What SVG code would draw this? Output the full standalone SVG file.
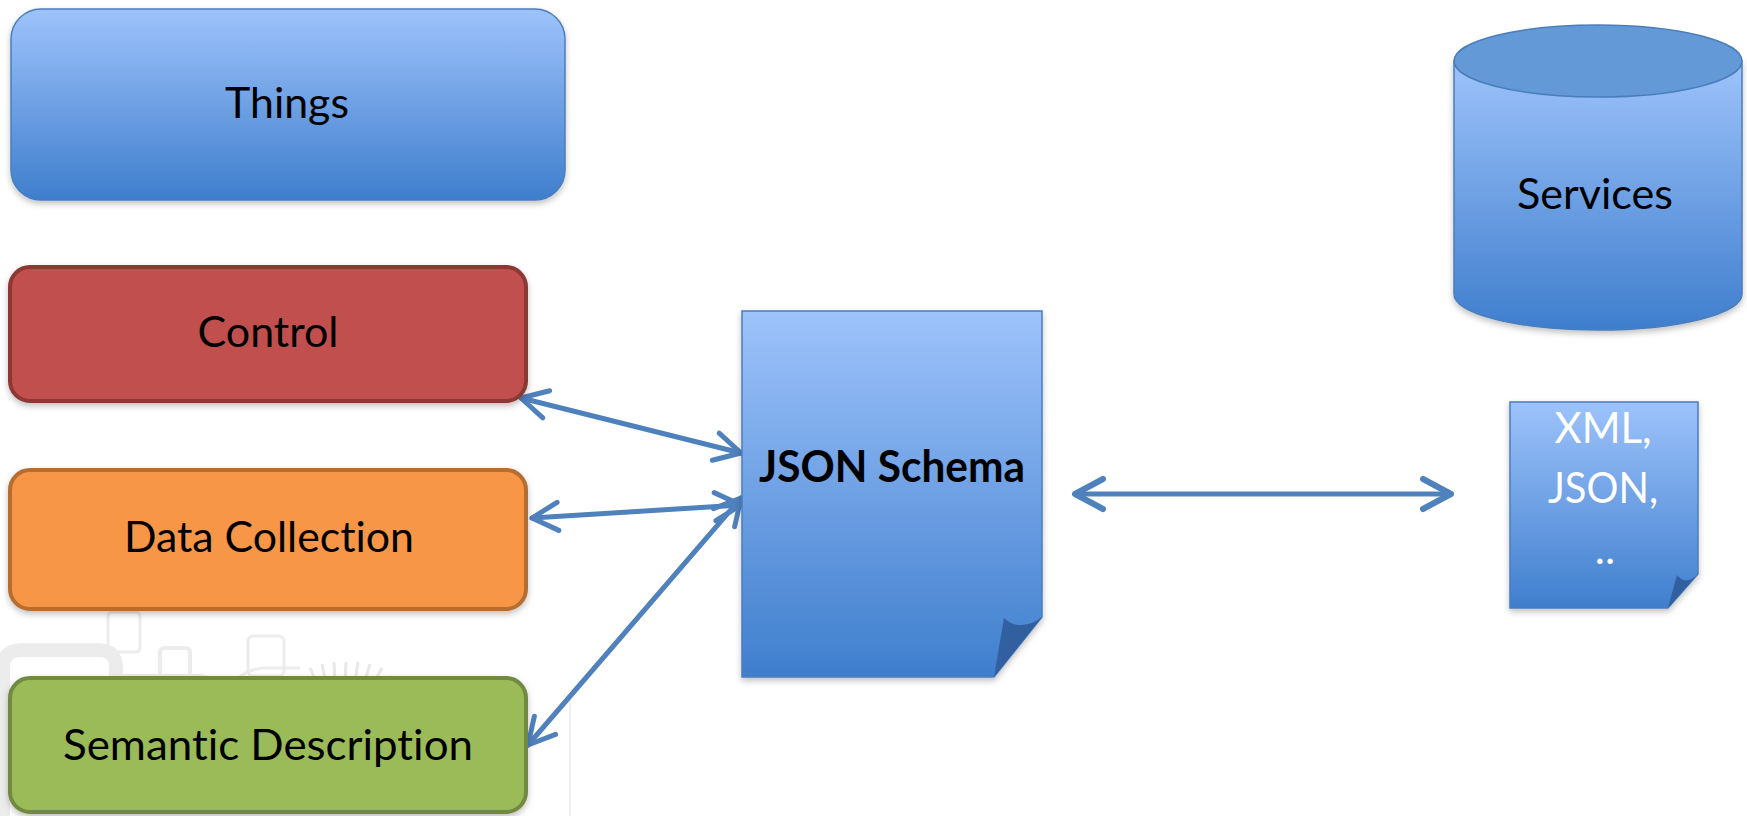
<svg xmlns="http://www.w3.org/2000/svg" width="1747" height="816" viewBox="0 0 1747 816">
<style>
.lbl{font-family:Lato,"Open Sans","Liberation Sans",sans-serif;font-size:43px;fill:#000;text-anchor:middle;font-variant-ligatures:none;font-feature-settings:"liga" 0,"clig" 0,"dlig" 0}
.wht{fill:#fff}
.bold{font-weight:bold}
.conn{stroke:#4f81bd;stroke-width:5;fill:none;stroke-linecap:round}
.wm{fill:none;stroke:#ececec}
</style>
<defs>
<linearGradient id="blue" x1="0" y1="0" x2="0" y2="1">
<stop offset="0" stop-color="#9dc3fb"/>
<stop offset="1" stop-color="#3f7ecd"/>
</linearGradient>
<filter id="sh" x="-10%" y="-10%" width="120%" height="130%">
<feDropShadow dx="0" dy="3" stdDeviation="3" flood-color="#000" flood-opacity="0.25"/>
</filter>
<marker id="ah" viewBox="-32 -20 37 40" refX="0" refY="0" markerWidth="37" markerHeight="40" markerUnits="userSpaceOnUse" orient="auto-start-reverse">
<path d="M-26,-14 L0,0 L-26,14" fill="none" stroke="#4f81bd" stroke-width="5" stroke-linecap="round" stroke-linejoin="round"/>
</marker>
<marker id="ahb" viewBox="-36 -22 41 44" refX="0" refY="0" markerWidth="41" markerHeight="44" markerUnits="userSpaceOnUse" orient="auto-start-reverse">
<path d="M-28,-15 L0,0 L-28,15" fill="none" stroke="#4f81bd" stroke-width="6" stroke-linecap="round" stroke-linejoin="round"/>
</marker>
</defs>
<rect width="1747" height="816" fill="#fff"/>
<g id="watermark">
<path class="wm" d="M3,816 V668 Q3,650 22,650 H98 Q116,650 116,668 V720" stroke-width="14"/>
<rect class="wm" x="108" y="612" width="32" height="40" rx="4" stroke-width="3"/>
<rect class="wm" x="160" y="648" width="30" height="42" rx="4" stroke-width="4"/>
<path class="wm" d="M116,680 H200 Q212,680 212,695 V716" stroke-width="12"/>
<rect class="wm" x="248" y="636" width="36" height="40" rx="5" stroke-width="3"/>
<path class="wm" d="M228,700 Q232,672 262,668 H300" stroke-width="3"/>
<g stroke="#e8e8e8" stroke-width="3">
<line x1="300" y1="678" x2="312" y2="690"/>
<line x1="310" y1="668" x2="318" y2="686"/>
<line x1="322" y1="664" x2="326" y2="684"/>
<line x1="334" y1="662" x2="335" y2="682"/>
<line x1="346" y1="662" x2="345" y2="682"/>
<line x1="358" y1="662" x2="355" y2="682"/>
<line x1="370" y1="664" x2="364" y2="684"/>
<line x1="382" y1="668" x2="372" y2="686"/>
<line x1="392" y1="676" x2="380" y2="690"/>
</g>
<line x1="570" y1="700" x2="570" y2="816" stroke="#f0f0f0" stroke-width="2"/>
</g>
<g id="connectors">
<line class="conn" x1="521" y1="398" x2="741" y2="453" marker-start="url(#ah)" marker-end="url(#ah)"/>
<line class="conn" x1="532" y1="518" x2="741" y2="505" marker-start="url(#ah)" marker-end="url(#ah)"/>
<line class="conn" x1="528" y1="745" x2="741" y2="498" marker-start="url(#ah)" marker-end="url(#ah)"/>
<line class="conn" x1="1075" y1="494" x2="1451" y2="494" stroke-width="6" marker-start="url(#ahb)" marker-end="url(#ahb)"/>
</g>
<g id="things">
<rect x="11" y="9" width="554" height="191" rx="30" fill="url(#blue)" stroke="#4a7ebb" stroke-width="1.5" filter="url(#sh)"/>
<text class="lbl" x="287" y="118" textLength="124" lengthAdjust="spacingAndGlyphs">Things</text>
</g>
<g id="control">
<rect x="10" y="267" width="516" height="134" rx="20" fill="#c0504d" stroke="#8c3836" stroke-width="4" filter="url(#sh)"/>
<text class="lbl" x="268" y="347" textLength="141" lengthAdjust="spacingAndGlyphs">Control</text>
</g>
<g id="data-collection">
<rect x="10" y="470" width="516" height="139" rx="20" fill="#f79646" stroke="#b66d31" stroke-width="4" filter="url(#sh)"/>
<text class="lbl" x="269" y="552" textLength="290" lengthAdjust="spacingAndGlyphs">Data Collection</text>
</g>
<g id="semantic-description">
<rect x="10" y="678" width="516" height="134" rx="20" fill="#9bbb59" stroke="#71893f" stroke-width="4" filter="url(#sh)"/>
<text class="lbl" x="268" y="760" textLength="410" lengthAdjust="spacingAndGlyphs">Semantic Description</text>
</g>
<g id="json-schema">
<path d="M742,311 H1042 V617 L994,677 H742 Z" fill="url(#blue)" stroke="#4a7ebb" stroke-width="1.5" filter="url(#sh)"/>
<path d="M1004,618 Q1012,626 1022,625 Q1034,624 1042,617 L994,677 Z" fill="#325f9f"/>
<text class="lbl bold" x="892" y="482" textLength="266" lengthAdjust="spacingAndGlyphs">JSON Schema</text>
</g>
<g id="services">
<path d="M1454,61 V294 A144,36 0 0 0 1742,294 V61 Z" fill="url(#blue)" stroke="#4a7ebb" stroke-width="1.5" filter="url(#sh)"/>
<ellipse cx="1598" cy="61" rx="144" ry="36" fill="#6499d8" stroke="#4a7ebb" stroke-width="1.5"/>
<text class="lbl" x="1595" y="209" textLength="156" lengthAdjust="spacingAndGlyphs">Services</text>
</g>
<g id="formats">
<path d="M1510,402 H1698 V574 L1668,608 H1510 Z" fill="url(#blue)" stroke="#4a7ebb" stroke-width="1.5" filter="url(#sh)"/>
<path d="M1677,575 Q1682,582 1689,580 Q1695,578 1698,574 L1668,608 Z" fill="#325f9f"/>
<text class="lbl wht" x="1603" y="443" textLength="97" lengthAdjust="spacingAndGlyphs">XML,</text>
<text class="lbl wht" x="1603" y="503" textLength="110" lengthAdjust="spacingAndGlyphs">JSON,</text>
<text class="lbl wht" x="1605" y="564">..</text>
</g>
</svg>
